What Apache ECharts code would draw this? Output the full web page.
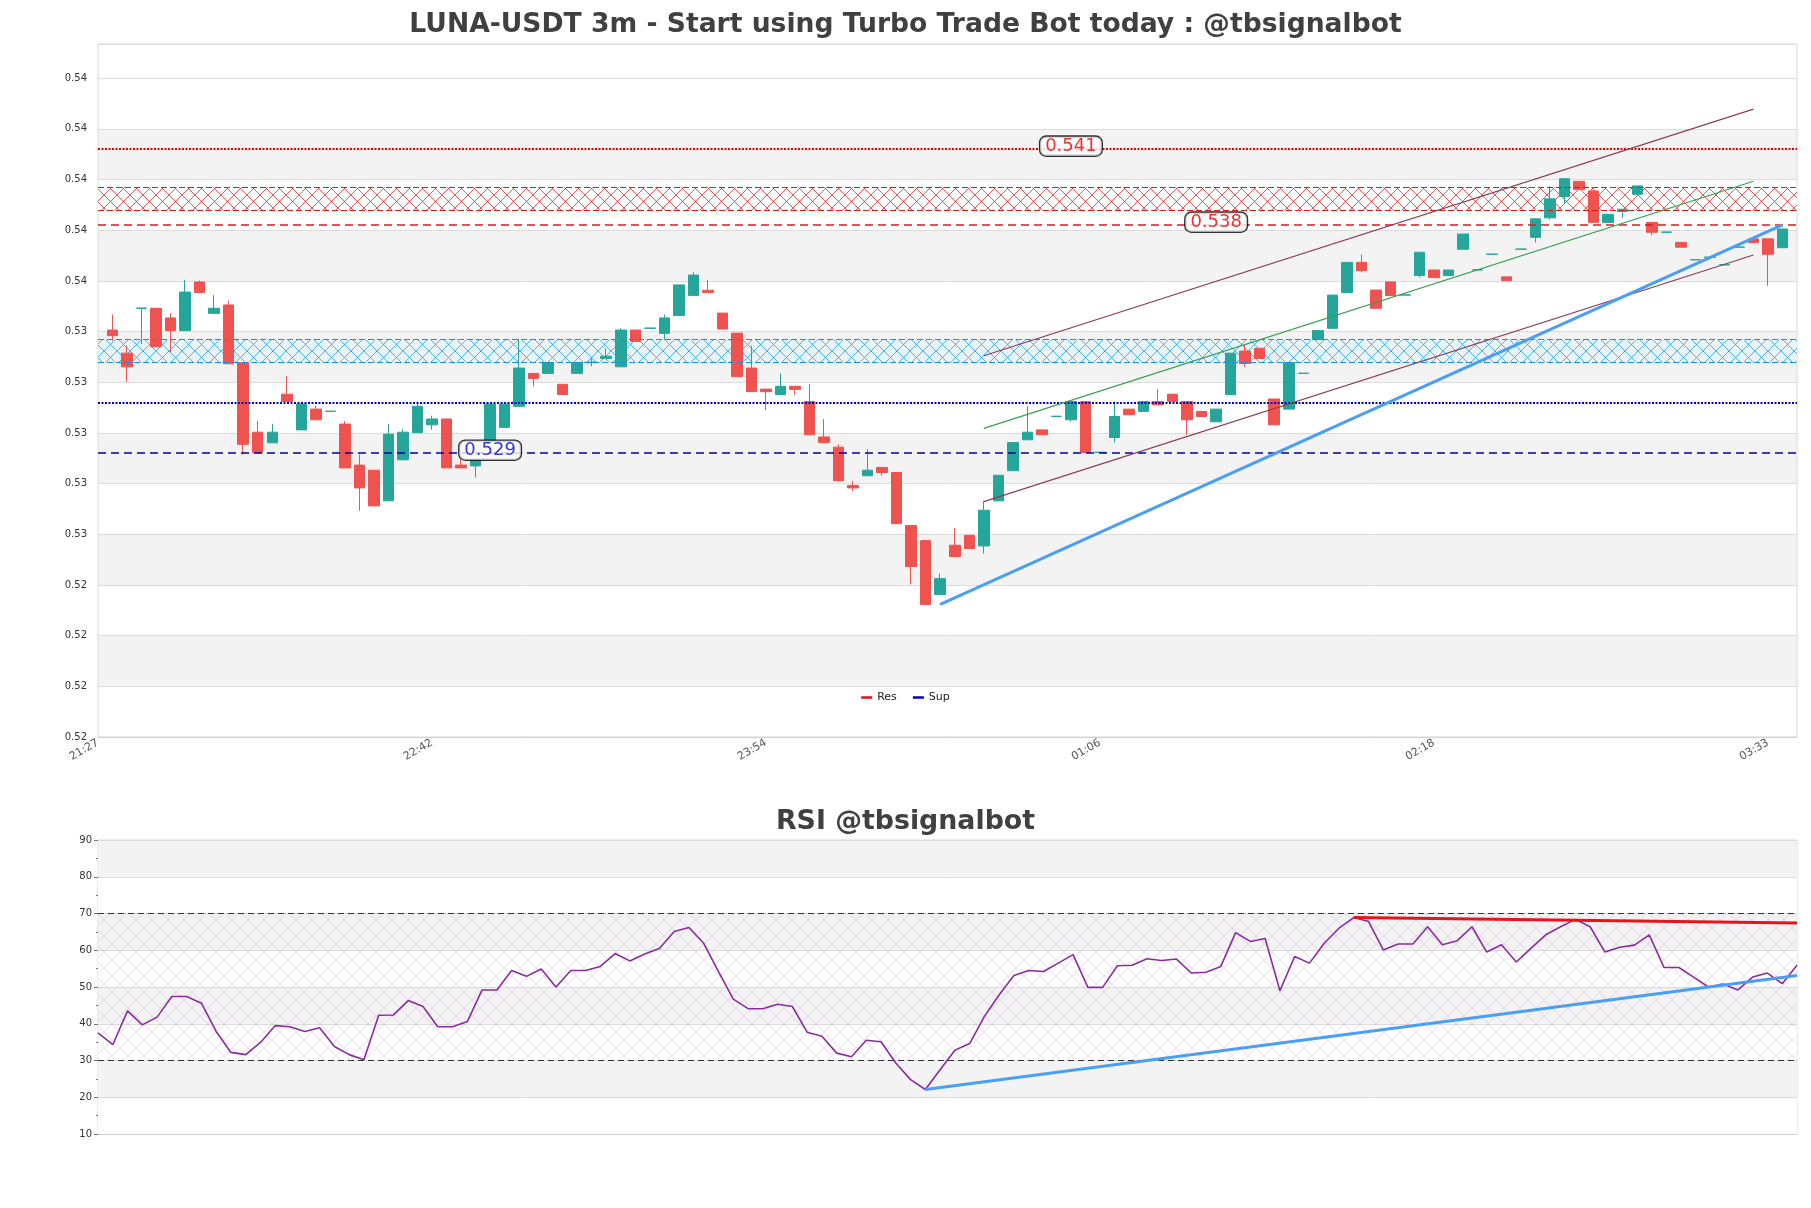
<!DOCTYPE html>
<html><head><meta charset="utf-8">
<script src="https://cdn.jsdelivr.net/npm/echarts@6/dist/echarts.min.js"></script>
<style>html,body{margin:0;padding:0;background:#fff}#c{width:1811px;height:1208px}</style>
</head><body><div id="c"></div>
<script>
// ---------- data ----------
const tickIdx = [-1, 22, 45, 68, 91, 114];
const tickLabels = ['21:27', '22:42', '23:54', '01:06', '02:18', '03:33'];

const opens = [0.53386,0.53295,0.53472,0.53472,0.53434,0.53384,0.53576,0.53452,0.53485,0.53257,
0.52983,0.52941,0.53133,0.52992,0.53074,0.53065,0.53015,0.52853,0.52833,0.52712,
0.52874,0.52981,0.53012,0.53035,0.52853,0.52850,0.52949,0.53002,0.53085,0.53215,
0.53215,0.53172,0.53215,0.53257,0.53274,0.53241,0.53386,0.53393,0.53373,0.53443,
0.53522,0.53543,0.53453,0.53374,0.53236,0.53153,0.53131,0.53164,0.53104,0.52964,
0.52924,0.52773,0.52811,0.52844,0.52824,0.52615,0.52555,0.52342,0.52537,0.52576,
0.52534,0.52712,0.52831,0.52953,0.52992,0.53045,0.53032,0.53104,0.52903,0.52962,
0.53074,0.53065,0.53104,0.53133,0.53104,0.53065,0.53024,0.53131,0.53303,0.53314,
0.53114,0.53074,0.53215,0.53348,0.53393,0.53534,0.53653,0.53544,0.53576,0.53524,
0.53601,0.53623,0.53601,0.53705,0.53623,0.53685,0.53596,0.53705,0.53752,0.53829,
0.53913,0.53973,0.53935,0.53811,0.53854,0.53922,0.53811,0.53772,0.53732,0.53663,
0.53673,0.53643,0.53713,0.53746,0.53746,0.53711];
const closes = [0.53364,0.53241,0.53473,0.53320,0.53384,0.53536,0.53534,0.53472,0.53253,0.52935,
0.52902,0.52983,0.53104,0.53094,0.53032,0.53066,0.52842,0.52763,0.52692,0.52975,
0.52983,0.53085,0.53035,0.52842,0.52842,0.52873,0.53094,0.53094,0.53236,0.53195,
0.53258,0.53132,0.53258,0.53260,0.53283,0.53386,0.53341,0.53394,0.53434,0.53564,
0.53603,0.53534,0.53390,0.53202,0.53143,0.53143,0.53164,0.53152,0.52973,0.52942,
0.52791,0.52763,0.52833,0.52824,0.52622,0.52453,0.52303,0.52405,0.52492,0.52524,
0.52675,0.52813,0.52942,0.52983,0.52973,0.53046,0.53104,0.52903,0.52904,0.53045,
0.53052,0.53104,0.53091,0.53104,0.53032,0.53045,0.53074,0.53295,0.53254,0.53274,
0.53012,0.53257,0.53216,0.53384,0.53524,0.53653,0.53621,0.53472,0.53522,0.53525,
0.53693,0.53593,0.53623,0.53765,0.53624,0.53686,0.53581,0.53706,0.53825,0.53904,
0.53983,0.53940,0.53811,0.53843,0.53863,0.53955,0.53772,0.53773,0.53713,0.53664,
0.53674,0.53644,0.53714,0.53731,0.53685,0.53785];
const lows = [0.53344,0.53182,0.53331,0.53320,0.53298,0.53384,0.53534,0.53452,0.53253,0.52895,
0.52902,0.52941,0.53104,0.52992,0.53032,0.53065,0.52842,0.52673,0.52692,0.52712,
0.52874,0.52981,0.52992,0.52842,0.52842,0.52804,0.52949,0.53002,0.53085,0.53164,
0.53215,0.53132,0.53215,0.53243,0.53274,0.53241,0.53341,0.53393,0.53348,0.53443,
0.53522,0.53534,0.53390,0.53202,0.53143,0.53071,0.53131,0.53131,0.52973,0.52942,
0.52791,0.52751,0.52811,0.52811,0.52622,0.52383,0.52303,0.52342,0.52492,0.52524,
0.52504,0.52712,0.52831,0.52953,0.52973,0.53045,0.53024,0.52903,0.52903,0.52942,
0.53052,0.53065,0.53091,0.53104,0.52973,0.53045,0.53024,0.53131,0.53241,0.53274,
0.53012,0.53074,0.53215,0.53348,0.53393,0.53534,0.53614,0.53472,0.53522,0.53524,
0.53593,0.53593,0.53601,0.53705,0.53623,0.53685,0.53581,0.53705,0.53732,0.53822,
0.53884,0.53940,0.53811,0.53811,0.53829,0.53922,0.53761,0.53772,0.53713,0.53663,
0.53673,0.53643,0.53713,0.53731,0.53561,0.53711];
const highs = [0.53447,0.53324,0.53473,0.53472,0.53453,0.53584,0.53581,0.53524,0.53502,0.53257,
0.53027,0.53015,0.53204,0.53104,0.53087,0.53066,0.53027,0.52895,0.52833,0.53015,
0.52995,0.53104,0.53048,0.53035,0.52877,0.52873,0.53094,0.53094,0.53351,0.53215,
0.53258,0.53172,0.53258,0.53276,0.53314,0.53393,0.53386,0.53394,0.53447,0.53564,
0.53614,0.53584,0.53453,0.53374,0.53324,0.53153,0.53215,0.53164,0.53172,0.53035,
0.52935,0.52791,0.52916,0.52844,0.52824,0.52615,0.52555,0.52425,0.52604,0.52576,
0.52712,0.52813,0.52942,0.53085,0.52992,0.53046,0.53104,0.53104,0.52904,0.53104,
0.53074,0.53104,0.53153,0.53133,0.53104,0.53065,0.53074,0.53295,0.53331,0.53314,
0.53114,0.53257,0.53216,0.53384,0.53524,0.53653,0.53685,0.53544,0.53576,0.53525,
0.53693,0.53623,0.53623,0.53765,0.53624,0.53686,0.53596,0.53706,0.53825,0.53954,
0.53983,0.53973,0.53935,0.53843,0.53863,0.53955,0.53811,0.53773,0.53732,0.53664,
0.53674,0.53644,0.53714,0.53746,0.53746,0.53785];

const rsi = [37.5,34.3,43.5,39.7,41.8,47.4,47.4,45.6,37.9,32.2,
31.6,34.9,39.5,39.2,37.9,38.9,33.8,31.6,30.2,42.3,
42.4,46.3,44.7,39.2,39.2,40.6,49.2,49.2,54.5,52.9,
54.9,50.0,54.5,54.5,55.6,59.1,57.1,59.0,60.5,65.1,
66.2,61.9,54.2,46.7,44.1,44.1,45.3,44.7,37.7,36.6,
32.0,31.0,35.5,35.1,29.3,24.8,22.1,27.5,32.8,34.6,
42.0,47.9,53.1,54.5,54.2,56.5,58.8,49.9,49.9,55.8,
55.9,57.7,57.2,57.6,53.8,54.0,55.6,64.8,62.4,63.2,
49.0,58.3,56.5,61.9,66.0,68.9,67.8,60.1,61.7,61.7,
66.4,61.5,62.6,66.4,59.5,61.5,56.8,60.6,64.2,66.4,
68.4,66.4,59.5,60.8,61.4,64.2,55.3,55.3,52.7,50.0,
50.8,49.2,52.7,53.8,50.9,55.9];

const resLine = 0.541, resZone = [0.53858, 0.53950], resDash = 0.538;
const supZone = [0.53258, 0.53348], supLine = 0.531, supDash = 0.529;
const levelLabels = [[66, 0.541, 'res'], [76, 0.538, 'res'], [26, 0.529, 'sup']];

const priceTrend = [[57, 0.52303], [115, 0.53801]];
const channelUpper = [[60, 0.53285], [113, 0.54258]];
const channelMid = [[60, 0.52998], [113, 0.53973]];
const channelLower = [[60, 0.52709], [113, 0.53682]];
const rsiResTrend = [[85, 68.9], [115, 67.4]];
const rsiSupTrend = [[56, 22.1], [115, 53.1]];

const yMin = 0.5178, yMax = 0.54515, yStep = 0.002;

// ---------- helpers ----------
function makeHatch(size, lineColor, bgColor, lw) {
  const c = document.createElement('canvas');
  c.width = size; c.height = size;
  const g = c.getContext('2d');
  if (bgColor) { g.fillStyle = bgColor; g.fillRect(0, 0, size, size); }
  g.strokeStyle = lineColor; g.lineWidth = lw;
  g.beginPath();
  g.moveTo(0, 0); g.lineTo(size, size);
  g.moveTo(size, 0); g.lineTo(0, size);
  g.stroke();
  return c;
}
const hatchRed = makeHatch(13, 'rgba(225,30,30,0.75)', 'rgba(255,255,255,0.75)', 1);
const hatchBlue = makeHatch(13, 'rgba(30,150,230,0.75)', 'rgba(225,244,252,0.7)', 1);
const hatchPurple = makeHatch(16, 'rgba(150,90,170,0.18)', null, 1);

const bands = [];
for (let k = 1; yMin + (k + 1) * yStep < yMax; k += 2) {
  bands.push([{ yAxis: +(yMin + k * yStep).toFixed(5) }, { yAxis: +(yMin + (k + 1) * yStep).toFixed(5) }]);
}

const candleData = opens.map((o, i) => [i, o, closes[i], lows[i], highs[i]]);
const FONT = 'DejaVu Sans';

function trend(data, color, width, xi, yi) {
  return { type: 'line', xAxisIndex: xi, yAxisIndex: yi, data: data, symbol: 'none', silent: true, z: 6,
    lineStyle: { color: color, width: width }, itemStyle: { color: color } };
}

const chart = echarts.init(document.getElementById('c'), null, { renderer: 'canvas' });
chart.setOption({
  animation: false,
  backgroundColor: '#ffffff',
  textStyle: { fontFamily: FONT },
  title: [
    { text: 'LUNA-USDT 3m - Start using Turbo Trade Bot today : @tbsignalbot', left: 'center', top: 7,
      textStyle: { fontFamily: FONT, fontSize: 26.6, fontWeight: 'bold', color: '#404040' } },
    { text: 'RSI @tbsignalbot', left: 'center', top: 804,
      textStyle: { fontFamily: FONT, fontSize: 26.8, fontWeight: 'bold', color: '#404040' } }
  ],
  legend: {
    left: 'center', top: 687, itemWidth: 11, itemHeight: 2.5, itemGap: 16,
    textStyle: { fontSize: 11, color: '#222', fontFamily: FONT },
    data: [{ name: 'Res', icon: 'rect' }, { name: 'Sup', icon: 'rect' }]
  },
  grid: [
    { left: 98, top: 44, width: 1699, height: 693, show: true, borderColor: '#d9d9d9', borderWidth: 1 },
    { left: 98, top: 840, width: 1699, height: 294, show: true, borderColor: '#d9d9d9', borderWidth: 1 }
  ],
  xAxis: [
    { type: 'value', gridIndex: 0, min: -1, max: 116, interval: 23,
      axisLine: { show: true, lineStyle: { color: '#d0d0d0' } }, axisTick: { show: false }, splitLine: { show: false },
      axisLabel: { rotate: 30, fontSize: 11, color: '#555', margin: 5, showMaxLabel: false,
        formatter: v => { const i = tickIdx.indexOf(Math.round(v)); return i >= 0 ? tickLabels[i] : ''; } } },
    { type: 'value', gridIndex: 1, min: 0, max: 115,
      axisLine: { show: true, lineStyle: { color: '#d0d0d0' } }, axisTick: { show: false }, splitLine: { show: false },
      axisLabel: { show: false } }
  ],
  yAxis: [
    { type: 'value', gridIndex: 0, min: yMin, max: yMax, interval: yStep,
      axisLine: { show: false }, axisTick: { show: false },
      splitLine: { show: true, lineStyle: { color: '#dcdcdc', width: 1 } },
      axisLabel: { fontSize: 10, color: '#333', margin: 11, showMaxLabel: false, formatter: v => v.toFixed(2) } },
    { type: 'value', gridIndex: 1, min: 10, max: 90, interval: 10,
      axisLine: { show: false },
      axisTick: { show: true, length: 4, lineStyle: { color: '#777' } },
      minorTick: { show: true, splitNumber: 2, length: 2, lineStyle: { color: '#777' } },
      splitLine: { show: true, lineStyle: { color: '#dcdcdc' } },
      splitArea: { show: true, areaStyle: { color: ['#ffffff', '#f3f3f3'] } },
      axisLabel: { fontSize: 10, color: '#333', margin: 6 } }
  ],
  series: [
    { type: 'line', name: 'bands', xAxisIndex: 0, yAxisIndex: 0, data: [], silent: true, z: 0,
      markArea: { silent: true, z: -1, itemStyle: { color: '#f3f3f3' }, data: bands } },
    { type: 'line', name: 'Res', xAxisIndex: 0, yAxisIndex: 0, data: [], silent: true,
      itemStyle: { color: '#e01010' }, lineStyle: { color: '#e01010' },
      markArea: { silent: true, itemStyle: { color: { image: hatchRed, repeat: 'repeat' } },
        data: [[{ yAxis: resZone[0] }, { yAxis: resZone[1] }]] },
      markLine: { silent: true, precision: 6, symbol: ['none', 'none'], label: { show: false },
        data: [
          { yAxis: resLine, lineStyle: { type: [2, 1.5], width: 2.2, color: '#e00000' } },
          { yAxis: resZone[0], lineStyle: { type: [6, 3], width: 1.2, color: '#e01818' } },
          { yAxis: resZone[1], lineStyle: { type: [6, 3], width: 1.2, color: '#e01818' } },
          { yAxis: resDash, lineStyle: { type: [8, 5], width: 1.5, color: '#d81b1b' } }
        ] } },
    { type: 'line', name: 'Sup', xAxisIndex: 0, yAxisIndex: 0, data: [], silent: true,
      itemStyle: { color: '#0000c0' }, lineStyle: { color: '#0000c0' },
      markArea: { silent: true, itemStyle: { color: { image: hatchBlue, repeat: 'repeat' } },
        data: [[{ yAxis: supZone[0] }, { yAxis: supZone[1] }]] },
      markLine: { silent: true, precision: 6, symbol: ['none', 'none'], label: { show: false },
        data: [
          { yAxis: supZone[0], lineStyle: { type: [6, 3], width: 1.2, color: '#1a8ee0' } },
          { yAxis: supZone[1], lineStyle: { type: [6, 3], width: 1.2, color: '#1a8ee0' } },
          { yAxis: supLine, lineStyle: { type: [2, 1.5], width: 2.2, color: '#0000c8' } },
          { yAxis: supDash, lineStyle: { type: [8, 5], width: 1.5, color: '#0000a0' } }
        ] } },
    { type: 'candlestick', name: 'price', xAxisIndex: 0, yAxisIndex: 0, data: candleData, barWidth: 11,
      encode: { x: 0, y: [1, 2, 3, 4] }, silent: true, z: 3,
      itemStyle: { color: '#26a69a', color0: '#ef5350', borderColor: '#26a69a', borderColor0: '#ef5350', borderWidth: 1 } },
    trend(channelUpper, '#8c3c55', 1.1, 0, 0),
    trend(channelLower, '#8c3c55', 1.1, 0, 0),
    trend(channelMid, '#35a04e', 1.1, 0, 0),
    trend(priceTrend, '#4a9ff2', 3, 0, 0),
    { type: 'scatter', name: 'levels', xAxisIndex: 0, yAxisIndex: 0, symbolSize: 1, silent: true, z: 10,
      itemStyle: { color: 'rgba(0,0,0,0)' },
      data: levelLabels.map(l => ({ value: [l[0], l[1]], label: { color: l[2] === 'res' ? '#e00000' : '#0000d0' } })),
      label: { show: true, position: 'inside', offset: [0, -3], formatter: p => p.value[1].toFixed(3),
        fontSize: 18, fontFamily: FONT, backgroundColor: '#ffffff', borderColor: '#000', borderWidth: 1.3,
        borderRadius: 6, padding: [1, 5, 0, 5] } },
    { type: 'line', name: 'RSI', xAxisIndex: 1, yAxisIndex: 1, data: rsi.map((v, i) => [i, v]),
      symbol: 'none', silent: true, z: 4, lineStyle: { color: '#8a2c9e', width: 1.6 }, itemStyle: { color: '#8a2c9e' },
      markArea: { silent: true, itemStyle: { color: { image: hatchPurple, repeat: 'repeat' } },
        data: [[{ yAxis: 30 }, { yAxis: 70 }]] },
      markLine: { silent: true, precision: 2, symbol: ['none', 'none'], label: { show: false },
        lineStyle: { type: [6, 4], width: 1.2, color: '#333' },
        data: [{ yAxis: 70 }, { yAxis: 30 }] } },
    trend(rsiResTrend, '#e8141c', 3, 1, 1),
    trend(rsiSupTrend, '#4a9ff2', 3, 1, 1)
  ]
});
</script></body></html>
